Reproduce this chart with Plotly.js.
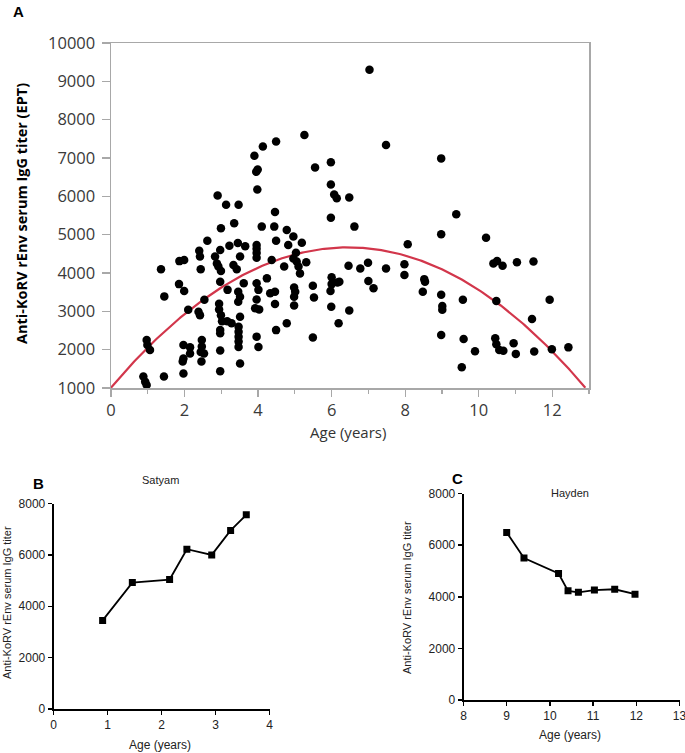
<!DOCTYPE html>
<html>
<head>
<meta charset="utf-8">
<script src="https://cdn.plot.ly/plotly-3.0.1.min.js"></script>
<style>html,body{margin:0;padding:0;background:#fff;}#chart{width:685px;height:753px;}</style>
</head>
<body>
<div id="chart"></div>
<script>
// Panel A: age (years) and anti-KoRV rEnv IgG titer (EPT)
const agesA = [7.03,5.26,7.48,8.98,5.98,5.55,5.98,6.07,6.14,6.48,9.39,5.98,6.62,4.49,4.13,3.90,3.99,3.95,3.98,2.90,
  3.13,3.47,4.46,3.35,2.99,4.10,4.44,4.78,4.96,2.62,4.49,4.82,5.19,3.22,3.45,3.65,3.96,3.96,3.96,3.96,
  2.97,2.40,2.42,2.83,3.51,5.03,4.96,5.05,5.10,5.14,4.37,4.71,5.31,1.86,1.99,1.36,2.44,2.88,2.92,2.99,
  3.33,3.42,4.24,1.85,1.99,2.97,3.17,3.46,3.51,3.46,3.61,3.96,4.01,3.96,3.92,4.03,4.33,4.46,4.46,4.98,
  5.01,4.98,4.98,5.49,5.52,4.78,4.49,5.49,6.00,6.00,5.97,6.16,6.21,5.99,6.19,6.46,6.48,6.78,6.99,7.00,
  7.14,7.48,8.07,7.98,7.98,8.52,8.54,8.48,8.98,8.98,9.01,9.01,8.98,9.57,9.59,9.54,9.90,10.20,10.40,10.50,
  10.65,11.04,11.49,10.48,11.93,11.45,10.45,10.48,10.56,10.67,10.95,11.01,11.51,11.99,12.44,2.54,1.45,2.10,2.38,2.42,
  2.94,2.94,2.99,3.02,3.16,3.28,2.97,2.97,3.51,3.47,3.47,3.47,3.47,3.47,3.96,4.01,0.97,0.99,1.06,1.97,
  2.15,2.15,1.97,1.95,2.47,2.47,2.44,2.53,2.46,2.97,3.51,1.97,2.97,1.44,0.88,0.93,0.97];
const titersA = [9300,7600,7340,6990,6890,6750,6310,6050,5950,5970,5530,5440,5210,7430,7300,7060,6700,6640,6180,6020,
  5780,5780,5590,5300,5170,5210,5210,5120,4950,4840,4840,4730,4790,4710,4780,4700,4730,4630,4520,4400,
  4600,4580,4430,4430,4430,4530,4380,4300,4170,3990,4340,4170,4280,4310,4340,4100,4100,4250,4170,4050,
  4210,4100,3860,3710,3530,3770,3560,3510,3380,3250,3730,3730,3560,3310,3080,3050,3470,3510,3190,3620,
  3510,3380,3150,3670,3360,2690,2510,2320,3890,3710,3530,3750,3770,3120,2690,4190,3020,4120,4270,3790,
  3600,4120,4750,4230,3950,3840,3770,3510,5010,3430,3140,3040,2380,3300,2280,1540,1960,4920,4250,4310,
  4190,4280,4300,3270,3300,2800,2300,2140,1990,1970,2170,1890,1950,2010,2060,3300,3390,3040,2990,2900,
  3200,3050,2900,2740,2740,2690,2510,2430,2860,2600,2470,2340,2210,2070,2340,2070,2250,2120,1990,2120,
  2060,1900,1770,1690,2250,2080,1940,1900,1690,1980,1640,1380,1440,1300,1300,1160,1080];

// Quadratic fit coefficients: titer = b0 + b1*age + b2*age^2
const fitB0 = 1009, fitB1 = 1135, fitB2 = -88;
const fitAgeMax = 12.9;

// Panel B: Satyam
const agesSatyam = [0.91,1.46,2.15,2.47,2.93,3.28,3.57];
const titersSatyam = [3450,4920,5040,6220,6000,6950,7560];

// Panel C: Hayden
const agesHayden = [9.0,9.4,10.2,10.42,10.66,11.03,11.5,11.97];
const titersHayden = [6490,5500,4900,4230,4170,4260,4290,4100];

const fitX = [], fitY = [];
for (let x = 0; x <= fitAgeMax + 1e-9; x += 0.05) {
  fitX.push(x); fitY.push(fitB0 + fitB1 * x + fitB2 * x * x);
}

const W = 685, H = 753;
const px = v => v / W;
const py = v => 1 - v / H;

const traces = [
  {x: fitX, y: fitY, type: 'scatter', mode: 'lines', xaxis: 'x', yaxis: 'y',
   line: {color: '#d2364b', width: 2.2}, hoverinfo: 'skip'},
  {x: agesA, y: titersA, type: 'scatter', mode: 'markers', xaxis: 'x', yaxis: 'y',
   marker: {color: '#000', size: 8.5}},
  {x: agesSatyam, y: titersSatyam, type: 'scatter', mode: 'lines+markers', xaxis: 'x2', yaxis: 'y2',
   line: {color: '#000', width: 1.8}, marker: {symbol: 'square', size: 7, color: '#000'}},
  {x: agesHayden, y: titersHayden, type: 'scatter', mode: 'lines+markers', xaxis: 'x3', yaxis: 'y3',
   line: {color: '#000', width: 1.8}, marker: {symbol: 'square', size: 7, color: '#000'}}
];

const gray = '#a8a8a8';
const mainFont = {family: 'Open Sans, Noto Sans, sans-serif', size: 16.5, color: '#3a3a3a'};
const smallFont = {family: 'Liberation Sans, Arial, sans-serif', size: 12, color: '#222'};

function ann(text, x, y, font, angle) {
  return {text: text, x: px(x), y: py(y), xref: 'paper', yref: 'paper', showarrow: false,
    xanchor: 'center', yanchor: 'middle', textangle: angle || 0, font: font};
}
const labelFont = {family: 'Liberation Sans, Arial, sans-serif', size: 15, color: '#000'};
const smallTitle = {family: 'Liberation Sans, Arial, sans-serif', size: 11, color: '#222'};
const smallAxis = {family: 'Liberation Sans, Arial, sans-serif', size: 12, color: '#222'};

const layout = {
  width: W, height: H,
  margin: {l: 0, r: 0, t: 0, b: 0},
  paper_bgcolor: '#fff', plot_bgcolor: '#fff',
  showlegend: false,
  xaxis: {domain: [px(111), px(589)], anchor: 'y', range: [0, 13], tick0: 0, dtick: 2,
    ticks: 'outside', ticklen: 7, tickcolor: gray, tickwidth: 1.2, showline: true, linecolor: gray, linewidth: 1.5,
    mirror: true, showgrid: false, zeroline: false, tickfont: mainFont,
    minor: {ticks: 'outside', dtick: 1, ticklen: 4, tickcolor: gray, tickwidth: 1.2, showgrid: false}},
  yaxis: {domain: [py(388), py(43)], anchor: 'x', range: [1000, 10000], tick0: 0, dtick: 1000,
    tickformat: 'd', ticks: 'outside', ticklen: 8, tickcolor: gray, tickwidth: 1.2, showline: true, linecolor: gray, linewidth: 1.5,
    mirror: true, showgrid: false, zeroline: false, tickfont: mainFont, ticklabelstandoff: 3},
  xaxis2: {domain: [px(53.5), px(269.5)], anchor: 'y2', range: [0, 4], dtick: 1, ticklabeloverflow: 'allow',
    ticks: 'outside', ticklen: 4, tickcolor: '#000', tickwidth: 1.5, showline: true, linecolor: '#000', linewidth: 1.8,
    showgrid: false, zeroline: false, tickfont: smallFont},
  yaxis2: {domain: [py(709), py(503.5)], anchor: 'x2', range: [0, 8000], dtick: 2000, tickformat: 'd',
    ticks: 'outside', ticklen: 4, tickcolor: '#000', tickwidth: 1.5, showline: true, linecolor: '#000', linewidth: 1.8,
    showgrid: false, zeroline: false, tickfont: smallFont},
  xaxis3: {domain: [px(463.5), px(679.5)], anchor: 'y3', range: [8, 13], dtick: 1, ticklabeloverflow: 'allow',
    ticks: 'outside', ticklen: 4, tickcolor: '#000', tickwidth: 1.5, showline: true, linecolor: '#000', linewidth: 1.8,
    showgrid: false, zeroline: false, tickfont: smallFont},
  yaxis3: {domain: [py(700), py(493.5)], anchor: 'x3', range: [0, 8000], dtick: 2000, tickformat: 'd',
    ticks: 'outside', ticklen: 4, tickcolor: '#000', tickwidth: 1.5, showline: true, linecolor: '#000', linewidth: 1.8,
    showgrid: false, zeroline: false, tickfont: smallFont},
  annotations: [
    ann('<b>A</b>', 18, 12, labelFont),
    ann('<b>B</b>', 38, 483, labelFont),
    ann('<b>C</b>', 457, 478, labelFont),
    ann('<b>Anti-KoRV rEnv serum IgG titer (EPT)</b>', 22, 214,
        {family: 'Open Sans, Noto Sans, sans-serif', size: 14.5, color: '#000'}, -90),
    ann('Age (years)', 348, 432, {family: 'Open Sans, Noto Sans, sans-serif', size: 15, color: '#333'}),
    ann('Satyam', 160, 480, smallTitle),
    ann('Anti-KoRV rEnv serum IgG titer', 7, 603, smallTitle, -90),
    ann('Age (years)', 160, 745, smallAxis),
    ann('Hayden', 570, 493, smallTitle),
    ann('Anti-KoRV rEnv serum IgG titer', 407, 598, smallTitle, -90),
    ann('Age (years)', 570, 735, smallAxis)
  ]
};

Plotly.newPlot('chart', traces, layout, {staticPlot: true, displayModeBar: false});
</script>
</body>
</html>
